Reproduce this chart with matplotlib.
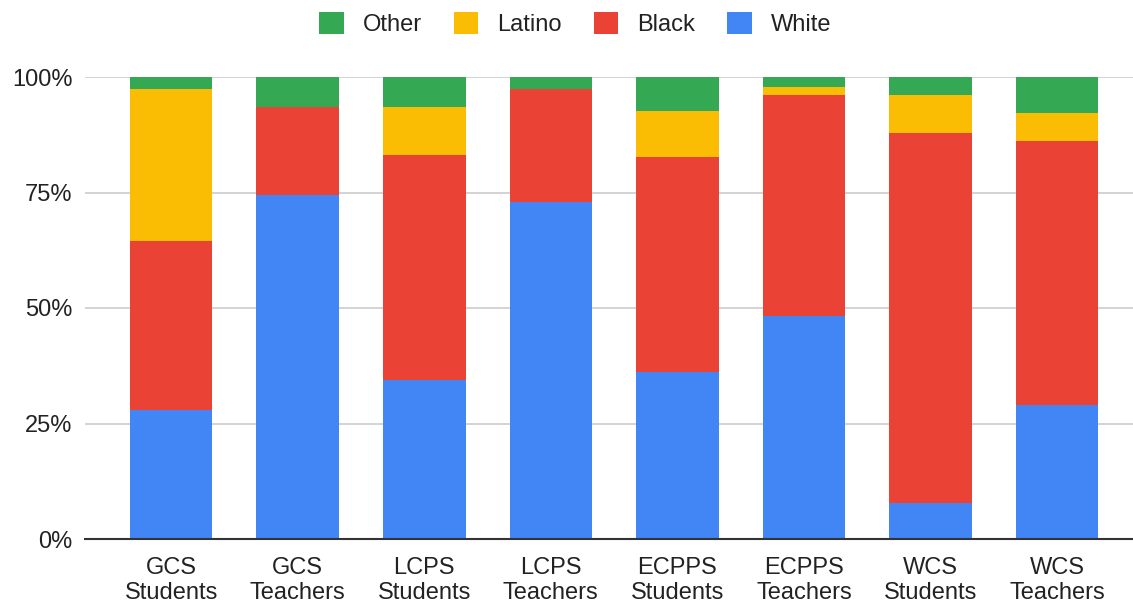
import numpy as np
import matplotlib.pyplot as plt

plt.rcParams["font.family"] = ["Liberation Sans", "DejaVu Sans"]

labels = ["GCS\nStudents", "GCS\nTeachers", "LCPS\nStudents", "LCPS\nTeachers",
          "ECPPS\nStudents", "ECPPS\nTeachers", "WCS\nStudents", "WCS\nTeachers"]
white = [27.9, 74.4, 34.4, 73.0, 36.1, 48.3, 7.7, 29.1]
black = [36.5, 19.2, 48.8, 24.5, 46.5, 47.9, 80.2, 57.1]
latino = [33.1, 0.0, 10.4, 0.0, 10.0, 1.7, 8.3, 6.1]
other = [2.5, 6.4, 6.4, 2.5, 7.4, 2.1, 3.8, 7.7]

series = [("White", white, "#4285F4"), ("Black", black, "#EA4335"),
          ("Latino", latino, "#FBBC04"), ("Other", other, "#34A853")]

W, H = 1133, 606
fig = plt.figure(figsize=(W / 100, H / 100), dpi=100)
ax = fig.add_axes([85 / W, 1 - 539 / H, 1 - 85 / W, (539 - 77) / H])

x = np.arange(len(labels))
bottom = np.zeros(len(labels))
handles = {}
for name, vals, col in series:
    v = np.array(vals) / 100
    b = ax.bar(x, v, 0.652, bottom=bottom, color=col, label=name, zorder=2)
    handles[name] = b
    bottom += v

ax.set_xlim(-0.681, 7.60)
ax.set_ylim(0, 1)
ax.set_yticks([0, 0.25, 0.5, 0.75, 1.0])
ax.set_yticklabels(["0%", "25%", "50%", "75%", "100%"])
ax.set_xticks(x)
ax.set_xticklabels(labels, linespacing=1.15)
ax.tick_params(axis="both", length=0, labelsize=17, colors="#222222")
ax.tick_params(axis="y", pad=9)
ax.tick_params(axis="x", pad=13)
for s in ax.spines.values():
    s.set_visible(False)
ax.grid(axis="y", color="#cccccc", lw=1.2, zorder=0)
ax.set_axisbelow(True)
ax.axhline(0, color="#333333", lw=1.5, zorder=3, clip_on=False)

order = ["Other", "Latino", "Black", "White"]
fig.legend([handles[n] for n in order], order, loc="center",
           bbox_to_anchor=(575 / W, 1 - 24 / H), ncol=4, frameon=False,
           fontsize=17, handlelength=1.05, handleheight=1.05,
           handletextpad=0.8, columnspacing=1.35, labelcolor="#222222")

fig.savefig("out.png", dpi=100)
